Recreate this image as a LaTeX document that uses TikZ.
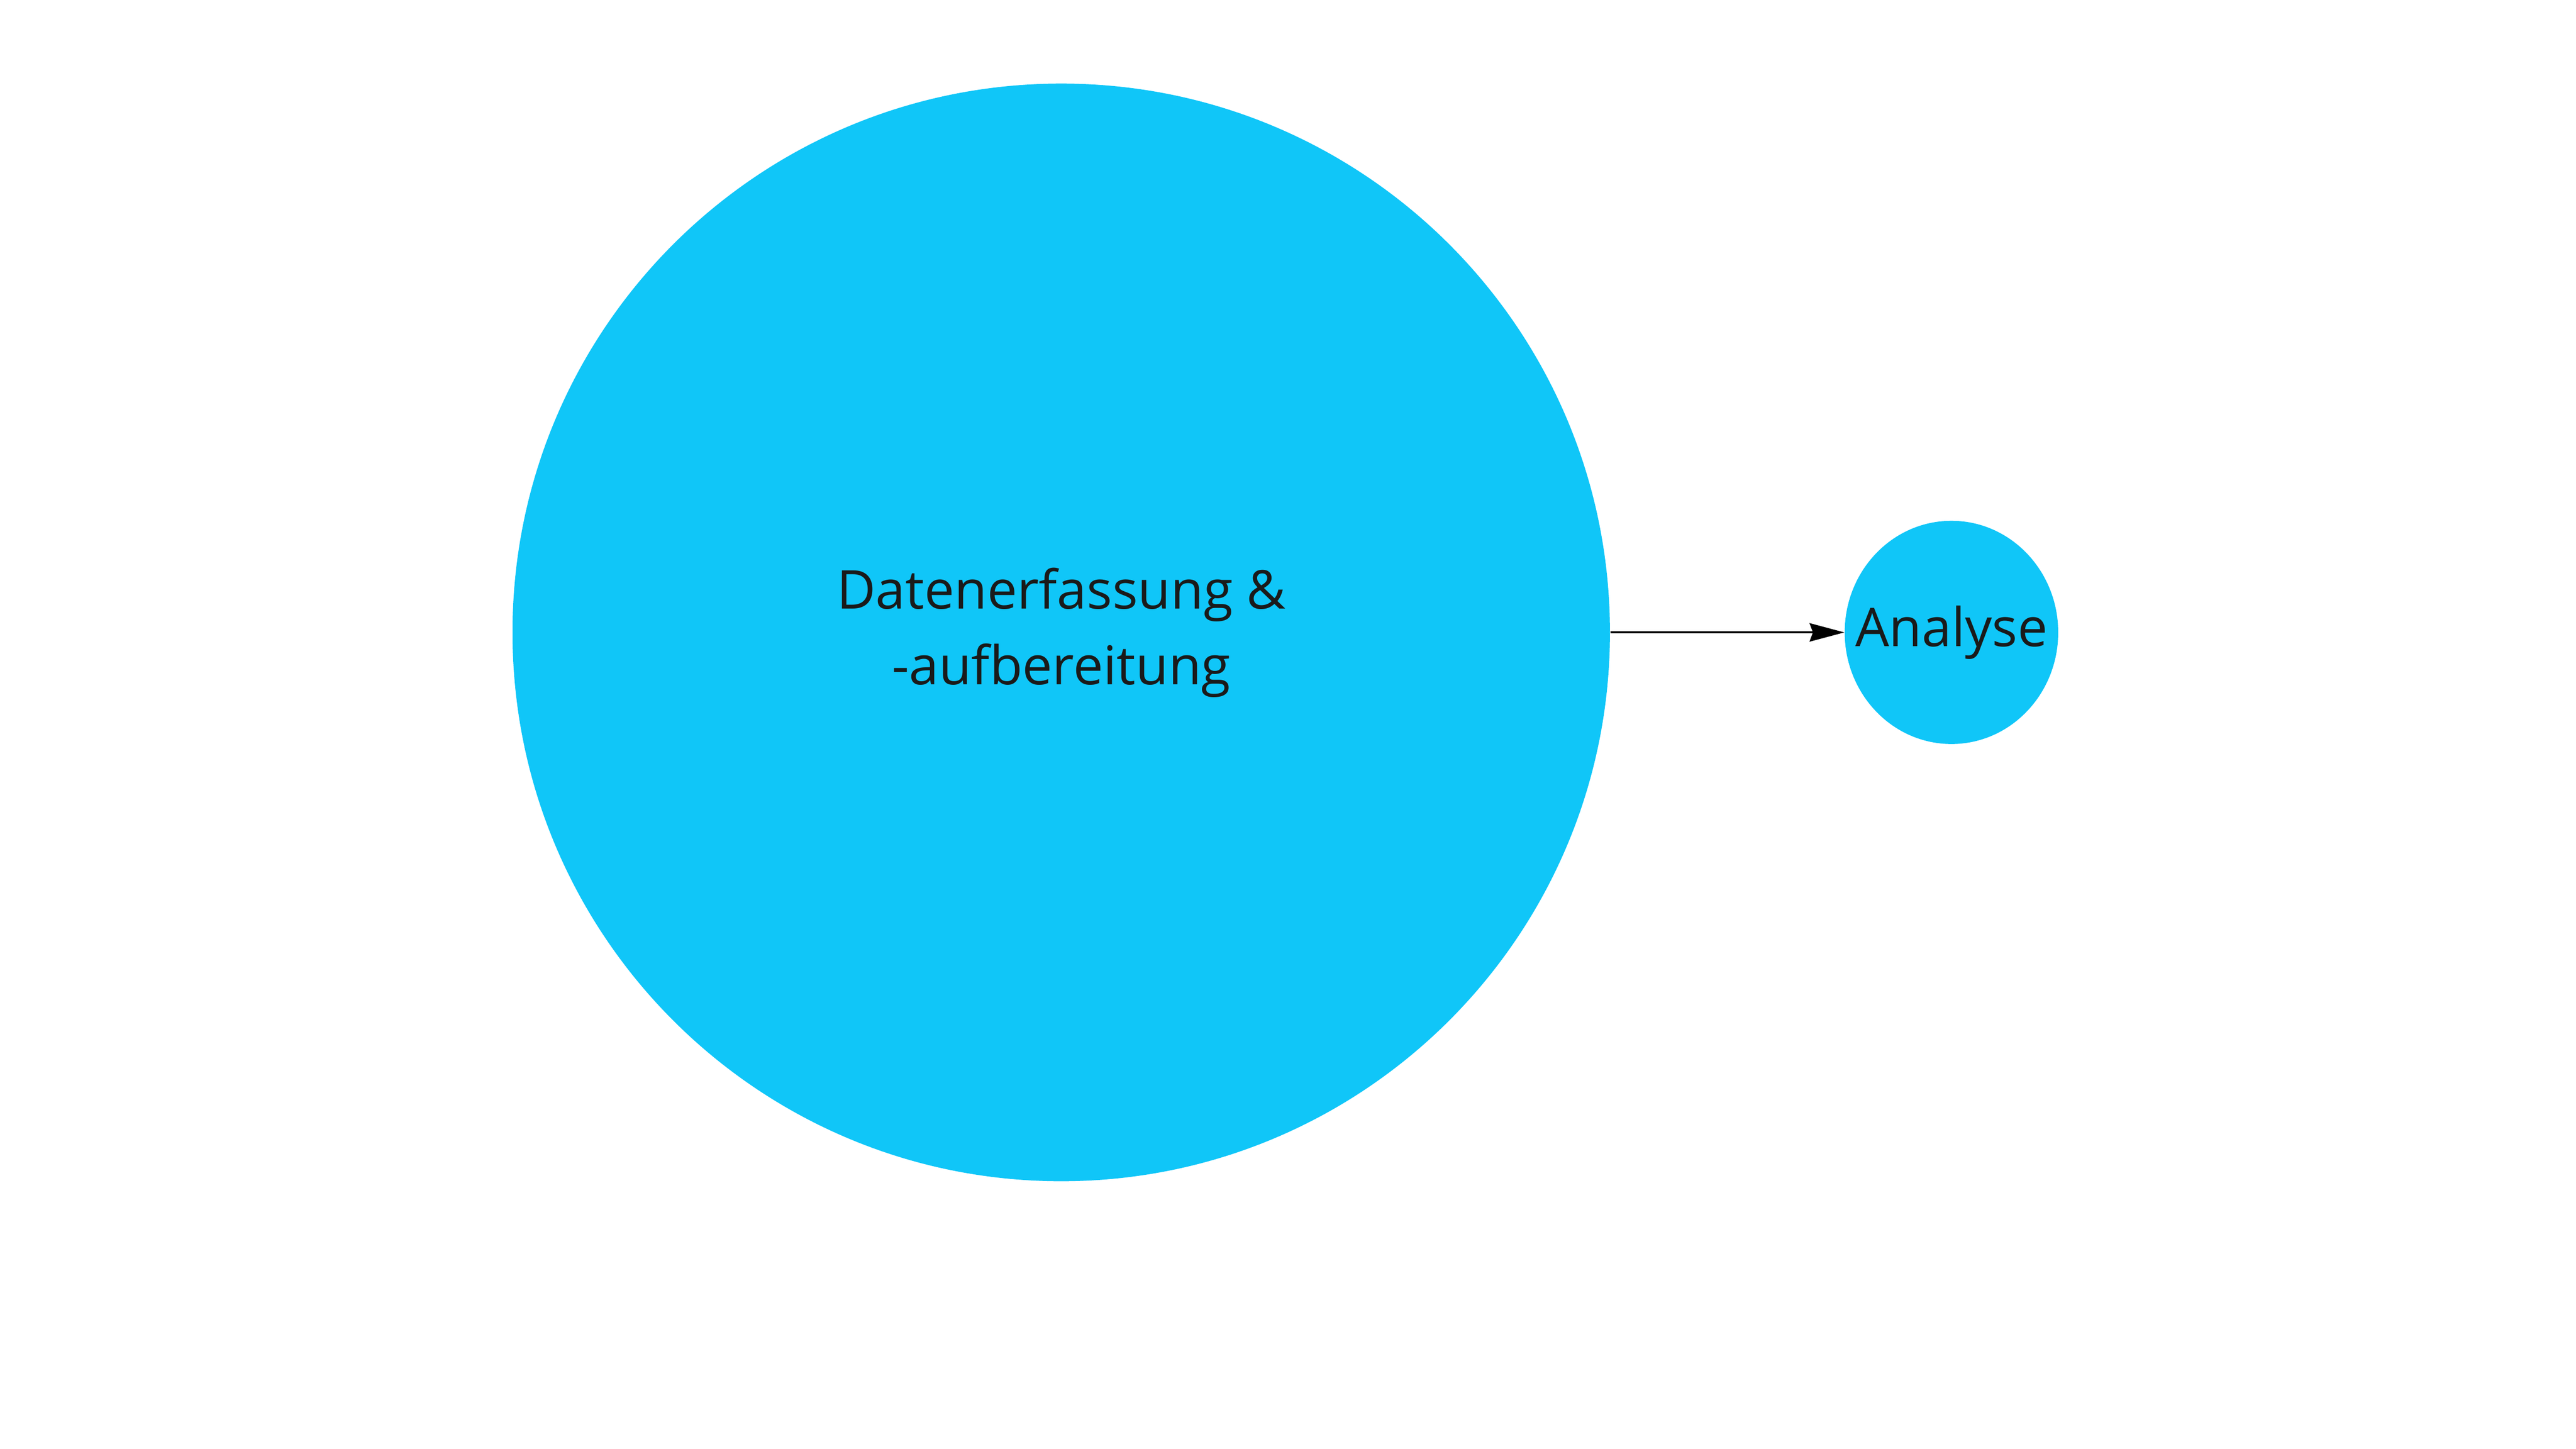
\documentclass[tikz,border=0pt]{standalone}
\usepackage{fontspec}
\setmainfont{Open Sans}
\usetikzlibrary{shapes.geometric,arrows.meta}
\definecolor{stageblue}{RGB}{16,198,248}
\definecolor{labelgray}{RGB}{26,26,26}

\begin{document}
\begin{tikzpicture}[
  every node/.style={font=\fontsize{31.5}{44.6}\selectfont, text=labelgray},
  stage/.style={shape=circle, fill=stageblue, inner sep=0pt, align=center},
  result/.style={shape=ellipse, fill=stageblue, inner xsep=-0.5cm, inner ysep=0pt},
  flow/.style={draw, line width=1.1pt, -{Stealth[length=0.72cm, width=0.38cm, inset=0.07cm]}}
]
\useasboundingbox (0,0) rectangle (53.33,-29.99);
\node [stage, minimum size=22.72cm] (prep) at (21.97,-13.09) {Datenerfassung \&\\-aufbereitung};
\node [result, minimum width=4.42cm, minimum height=4.62cm] (analyse) at (40.40,-13.09) {Analyse};
\draw [flow] (prep) -- (analyse);
\end{tikzpicture}
\end{document}
